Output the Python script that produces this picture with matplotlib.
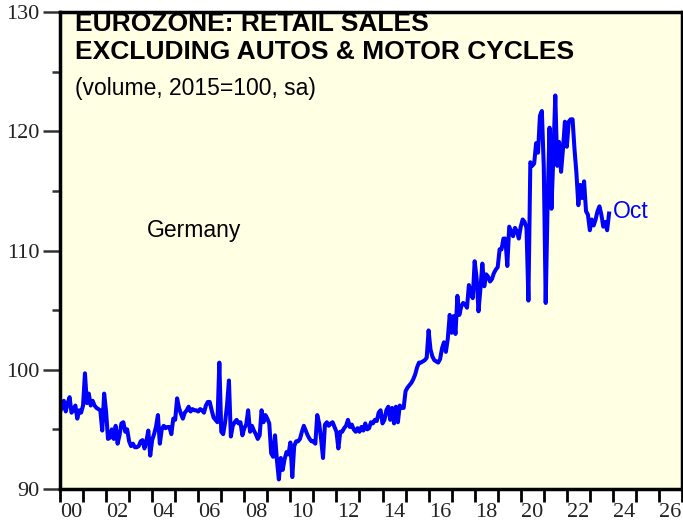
import numpy as np
import pandas as pd
import matplotlib.pyplot as plt
from matplotlib.ticker import FixedLocator, MultipleLocator

# Germany retail sales ex autos, volume 2015=100, monthly (Dec 1999 .. Oct 2023)
sales_a = [96.5, 96.8, 97.4, 96.5, 97.2, 97.7, 96.4, 96.6, 97.0, 95.9, 96.6, 96.4,
           97.0, 99.7, 97.2, 98.0, 97.0, 97.4, 97.0, 96.8, 96.7, 96.6, 94.9, 98.0,
           96.5, 94.2, 94.3, 95.0, 94.2, 95.3, 93.8, 94.5, 95.5, 95.6, 94.8, 95.0,
           94.0, 93.6, 93.8, 93.5, 93.5, 93.6, 94.0, 94.1, 93.4, 94.0, 94.9, 92.8,
           94.1, 94.6, 95.2, 96.2, 93.8, 95.0, 95.3, 95.1, 95.2, 95.2, 94.6, 95.9,
           95.8, 97.6, 96.8, 96.3, 95.9, 96.4, 96.6, 96.9, 96.5, 96.7, 96.6, 96.6,
           96.5, 96.7, 96.6, 96.4, 97.0, 97.3, 97.3, 96.6, 96.0, 95.8, 95.6, 100.6,
           94.8, 94.6, 95.6, 97.0, 99.1, 94.4, 95.3, 95.6, 95.8, 95.5, 95.6, 94.5]
sales_b = [95.1, 95.4, 96.6, 94.8, 95.3, 94.9, 94.6, 94.2, 94.5, 96.6, 95.6, 96.2,
           95.9, 95.5, 93.0, 92.7, 94.5, 92.4, 90.8, 92.6, 91.6, 92.5, 93.1, 92.9,
           93.9, 91.0, 93.6, 94.0, 94.0, 94.2, 94.8, 95.3, 94.9, 94.5, 94.2, 94.0,
           94.0, 93.8, 96.2, 95.5, 94.2, 92.6, 95.4, 95.6, 95.3, 95.5, 95.6, 95.2,
           94.8, 93.4, 94.8, 94.8, 95.1, 95.3, 95.8, 95.2, 95.4, 95.0, 94.8, 95.1,
           94.8, 95.2, 94.9, 95.5, 95.0, 95.1, 95.6, 95.5, 95.8, 95.7, 96.4, 96.6,
           95.5, 95.8, 96.6, 96.9, 95.8, 96.8, 95.5, 96.9, 95.6, 97.0, 96.8, 96.8,
           98.2, 98.5, 98.7, 98.9, 99.2, 99.6, 100.2, 100.6, 100.6, 100.7, 100.8, 101.0]
sales_c = [103.3, 101.7, 101.1, 100.8, 100.7, 100.6, 100.9, 101.8, 102.3, 101.5, 102.6, 104.6,
           103.1, 104.5, 103.0, 106.2, 104.6, 105.3, 105.6, 105.5, 105.2, 107.1, 106.4, 106.0,
           109.1, 107.7, 104.9, 106.8, 108.9, 107.0, 108.0, 107.8, 107.4, 107.6, 108.1, 108.4,
           108.6, 110.1, 110.1, 111.0, 111.0, 108.7, 112.0, 111.6, 111.2, 111.9, 111.6, 111.0,
           112.0, 112.6, 112.4, 111.9, 105.8, 117.4, 117.1, 117.3, 119.0, 118.2, 121.3, 121.7,
           117.0, 105.6, 114.0, 120.3, 113.5, 118.0, 123.0, 117.1, 119.1, 116.6, 118.5, 120.8,
           118.7, 120.8, 121.0, 121.0, 118.5, 116.5, 113.8, 115.5, 114.4, 115.8, 113.3, 113.0,
           111.7, 112.6, 112.1, 112.6, 113.3, 113.7, 113.0, 112.0, 112.4, 111.7, 113.1]

sales = np.array(sales_a + sales_b + sales_c)
dates = pd.date_range("1999-12-01", periods=len(sales), freq="MS")
x = dates.year + dates.month / 12

year_labels = ["00", "02", "04", "06", "08", "10", "12", "14", "16", "18", "20", "22", "24", "26"]
y_ticks = [90, 100, 110, 120, 130]

W, H = 683, 529
fig = plt.figure(figsize=(W / 100, H / 100), dpi=100)
ax = fig.add_axes([60 / W, 1 - 489 / H, 622 / W, (489 - 12) / H])
ax.set_facecolor("#ffffe3")

ax.plot(x, sales, color="#0000ff", lw=2.9, solid_joinstyle="round")

ax.set_xlim(2000, 2027)
ax.set_ylim(90, 130)

# x: ticks at year boundaries, labels centred between them
ax.xaxis.set_major_locator(FixedLocator([2000.5 + 2 * i for i in range(len(year_labels))]))
ax.set_xticklabels(year_labels)
ax.xaxis.set_minor_locator(MultipleLocator(1))
ax.tick_params(axis="x", which="major", length=0, pad=10)
ax.tick_params(axis="x", which="minor", length=9, width=2, color="black")

ax.set_yticks(y_ticks)
ax.yaxis.set_minor_locator(MultipleLocator(5))
ax.tick_params(axis="y", which="major", length=12, width=1.8, color="#333333", pad=3)
ax.tick_params(axis="y", which="minor", length=6, width=1.8, color="#333333")

for lab in ax.get_xticklabels() + ax.get_yticklabels():
    lab.set_fontfamily("Liberation Serif")
    lab.set_fontsize(16)
    lab.set_color("#222222")

for sp in ax.spines.values():
    sp.set_linewidth(2.5)
    sp.set_color("black")

def ftext(px, py, s, **kw):
    fig.text(px / W, 1 - py / H, s, **kw)

ftext(75, 24, "EUROZONE: RETAIL SALES", fontsize=19, fontweight="bold",
      family="Liberation Sans", va="center", ha="left")
ftext(75, 52, "EXCLUDING AUTOS & MOTOR CYCLES", fontsize=19, fontweight="bold",
      family="Liberation Sans", va="center", ha="left")
ftext(75, 88, "(volume, 2015=100, sa)", fontsize=16.5,
      family="Liberation Sans", va="center", ha="left")
ftext(147, 231, "Germany", fontsize=16.5, family="Liberation Sans", va="center", ha="left")
ftext(613, 212, "Oct", fontsize=16.5, family="Liberation Sans", color="#0000ff",
      va="center", ha="left")

fig.savefig("out.png", dpi=100)
